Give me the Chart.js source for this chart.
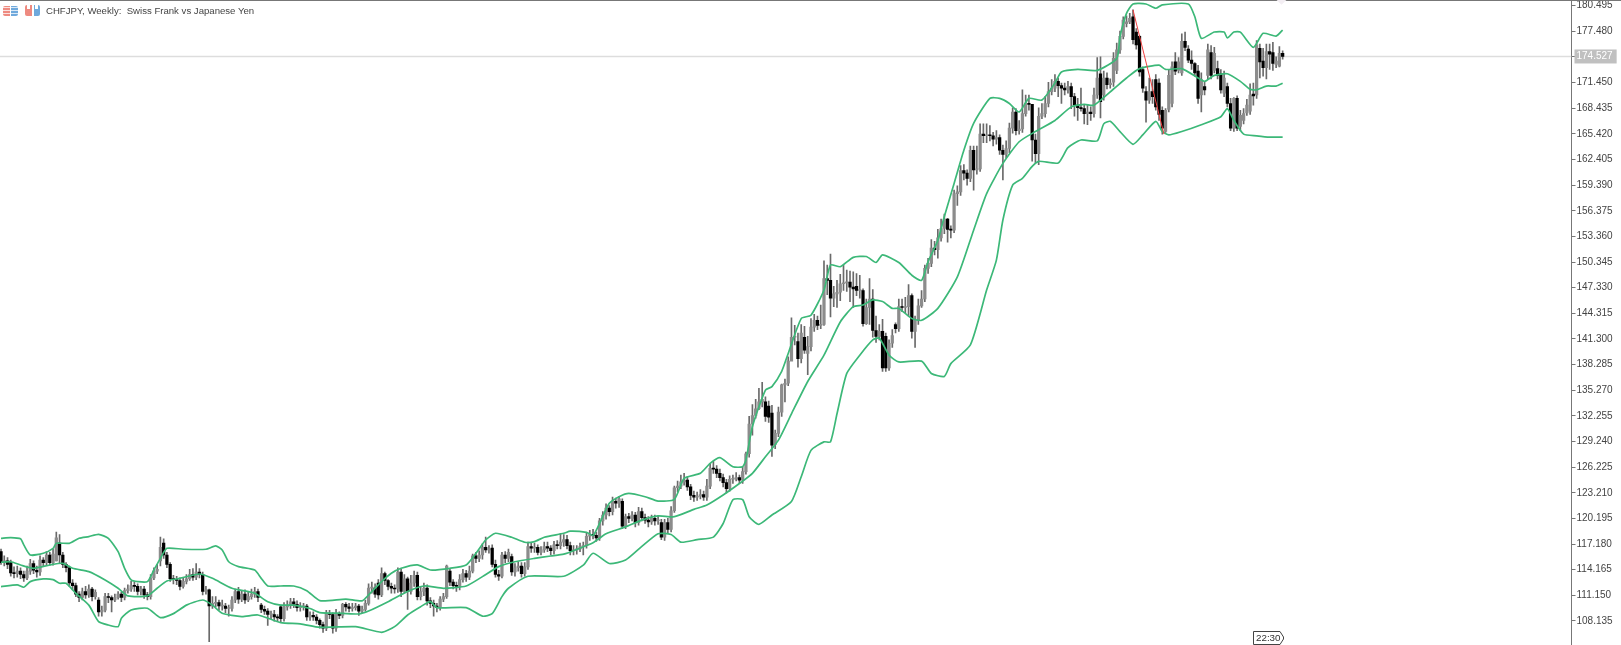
<!DOCTYPE html>
<html>
<head>
<meta charset="utf-8">
<title>CHFJPY Weekly</title>
<script src="https://cdn.jsdelivr.net/npm/chart.js@4"></script>
<style>
  html, body { margin: 0; padding: 0; background: #fff; overflow: hidden; }
  #wrap { position: relative; width: 1621px; height: 645px; overflow: hidden; }
  #wrap canvas { position: absolute; left: 0; top: 0; filter: blur(0.45px); }
  #topline { position: absolute; left: 0; top: 0; width: 1621px; height: 1px; background: #777; }
  #header { position: absolute; left: 46px; top: 5px; font: 9.6px "Liberation Sans", sans-serif; color: #444; white-space: pre; }
  .icon { position: absolute; top: 6px; width: 15px; height: 10px; border-radius: 2px; }
  #icon1 { left: 3px; background: repeating-linear-gradient(0deg, transparent 0 2px, rgba(255,255,255,.75) 2px 3px), linear-gradient(90deg, #ee8a80 0 45%, #fff 45% 52%, #6fa9dc 52% 100%); }
  #icon2 { left: 25px; top: 5px; height: 11px; background: linear-gradient(#fff 0 4px, transparent 4px) 2px 0 / 3px 100% no-repeat, linear-gradient(#fff 0 4px, transparent 4px) 10px 0 / 3px 100% no-repeat, linear-gradient(90deg, #ee8a80 0 45%, #fff 45% 58%, #6fa9dc 58% 100%); }
  #diamond { position: absolute; left: 1277px; top: -6px; width: 9px; height: 9px; background: #f3eef3; transform: rotate(45deg); }
  #clock { position: absolute; left: 1253px; top: 631px; }
  #clock span { position: absolute; left: 3px; top: 1px; font: 9.8px "Liberation Sans", sans-serif; color: #333; }
</style>
</head>
<body>
<div id="wrap">
  <canvas id="chart" width="1621" height="645"></canvas>
  <div id="topline"></div>
  <div class="icon" id="icon1"></div>
  <div class="icon" id="icon2"></div>
  <div id="header">CHFJPY, Weekly:  Swiss Frank vs Japanese Yen</div>
  <div id="diamond"></div>
  <div id="clock">
    <svg width="32" height="14"><path d="M0.5 0.5H27L30.5 6V8L27 13.5H0.5Z" fill="#fff" stroke="#444"/></svg>
    <span>22:30</span>
  </div>
</div>
<script>
// weekly candles
const opens = [
  116.3,115.0,115.2,115.0,113.8,113.7,114.0,113.6,113.2,114.0,
  114.9,114.1,113.9,115.3,115.0,115.9,115.0,115.2,117.3,115.9,
  114.8,114.4,112.6,112.3,111.3,110.9,111.6,111.2,111.9,111.0,
  110.6,109.2,109.4,111.0,110.9,110.6,110.9,111.3,110.9,111.7,
  111.9,112.3,112.2,111.6,111.9,111.2,111.0,113.2,114.0,115.2,
  117.3,115.9,114.8,113.1,113.0,112.9,112.2,112.8,113.1,113.6,
  113.3,113.9,113.6,111.6,111.8,109.9,110.2,110.3,109.9,109.9,
  109.6,109.6,110.6,111.6,110.7,111.3,110.6,111.0,111.3,111.6,
  110.0,109.5,109.3,108.9,108.9,108.6,109.8,108.4,109.8,110.0,
  110.4,110.1,109.7,109.8,109.9,108.6,108.8,108.6,108.2,107.7,
  107.3,109.0,108.9,107.3,109.0,108.8,110.1,109.8,109.6,109.7,
  109.9,109.3,109.5,110.2,112.0,112.0,112.6,111.2,113.7,112.9,
  112.2,112.0,111.9,113.9,111.6,113.1,111.6,112.6,113.5,111.0,
  111.6,112.0,110.5,110.2,109.9,109.7,110.7,111.0,114.0,112.7,
  112.3,112.2,113.0,113.7,113.3,114.0,115.8,115.5,115.9,116.8,
  116.5,116.7,114.8,113.6,113.4,115.9,115.5,115.7,113.9,114.4,
  114.6,113.7,114.5,116.9,116.7,116.8,116.2,116.5,116.9,116.7,
  116.4,117.1,117.0,117.4,117.7,117.0,116.4,116.5,116.6,116.9,
  117.0,118.1,118.3,118.2,117.9,119.9,120.6,121.4,121.0,122.2,
  122.0,122.2,119.3,120.4,120.2,120.6,119.7,121.0,120.3,120.0,
  119.8,120.2,119.9,119.7,118.0,119.7,118.9,121.1,123.8,124.0,
  124.5,124.7,123.9,122.9,122.7,122.8,123.0,122.7,124.0,126.1,
  126.0,125.5,125.0,124.4,123.7,124.8,124.8,125.0,124.7,125.7,
  127.8,131.3,132.3,133.1,133.9,133.9,133.4,132.6,128.9,130.2,
  132.7,135.9,136.1,138.7,141.5,141.0,139.0,141.5,139.6,140.4,
  142.7,143.5,142.9,143.0,148.4,148.2,146.1,146.6,146.8,147.8,
  147.9,148.0,147.4,147.5,147.0,147.0,143.1,145.0,146.0,142.3,
  141.6,142.2,141.6,137.9,140.8,143.0,142.5,145.1,145.0,145.1,
  146.4,142.2,143.5,145.2,146.0,149.6,150.2,152.0,151.8,153.2,
  154.3,155.4,154.2,154.1,158.4,158.6,161.1,160.8,160.2,163.5,
  161.2,161.3,165.4,165.2,165.3,165.2,164.8,165.0,163.5,163.0,
  163.7,166.1,168.0,165.8,166.0,167.8,169.0,168.9,164.7,163.1,
  167.5,167.8,169.0,170.4,170.8,171.6,171.1,170.8,170.6,171.0,
  169.8,168.8,168.5,168.4,167.8,168.0,167.8,170.0,172.5,170.0,
  172.0,171.2,171.5,172.9,175.3,176.9,178.4,178.6,179.2,177.4,
  176.9,173.0,170.4,169.4,170.4,171.8,171.4,168.2,165.7,168.3,
  169.0,173.9,172.9,172.6,176.3,175.4,174.1,173.7,172.8,170.0,
  171.0,172.3,175.0,172.9,173.1,172.5,170.2,171.0,169.0,166.1,
  169.6,166.3,167.0,167.9,168.1,170.1,170.0,175.5,174.0,173.2,
  175.1,175.0,173.6,173.4,174.9
];
const highs = [
  116.6,115.8,115.6,115.3,114.5,114.6,114.4,114.0,114.6,115.4,
  115.2,114.6,115.8,115.6,116.3,116.2,116.6,118.6,118.3,116.2,
  115.0,114.6,113.0,112.6,111.6,112.0,112.2,112.4,112.1,111.8,
  110.9,109.9,111.4,111.4,111.1,111.3,111.6,111.5,112.0,112.4,
  112.8,112.7,112.5,112.2,112.2,111.5,113.6,114.4,114.8,118.0,
  117.8,116.2,115.0,113.5,113.4,113.2,113.2,113.6,114.2,114.3,
  114.9,114.3,113.9,112.2,111.9,111.0,111.0,110.6,110.6,110.2,
  110.0,111.0,111.9,112.1,111.7,111.8,111.5,111.9,112.1,111.9,
  110.2,109.9,109.6,109.3,109.4,108.9,110.0,110.3,110.5,110.8,
  110.8,110.5,110.3,110.2,110.1,109.2,109.2,108.9,108.4,108.0,
  109.4,109.4,109.1,109.5,109.2,110.2,110.3,110.2,110.2,110.2,
  110.1,109.9,110.6,112.5,112.7,112.5,113.0,114.4,113.9,113.0,
  112.6,112.4,114.4,114.2,113.6,113.3,113.5,114.0,113.9,112.2,
  112.6,112.4,110.9,110.6,110.2,111.0,111.4,114.7,114.3,113.0,
  112.7,113.6,114.2,114.1,114.6,116.0,116.2,116.4,117.2,118.0,
  117.0,117.1,115.3,114.1,116.2,116.3,116.6,116.0,114.9,115.1,
  115.0,115.0,117.4,117.3,117.3,117.1,116.9,117.4,117.4,117.0,
  117.5,117.6,118.4,118.3,118.2,117.4,117.0,117.0,117.3,117.4,
  118.5,118.8,118.9,118.6,120.2,121.0,121.9,121.7,122.7,122.6,
  122.8,122.5,120.7,120.8,121.0,120.9,121.5,121.4,120.7,120.4,
  120.6,120.6,120.5,120.1,120.1,120.2,121.6,124.0,124.6,125.3,
  125.5,125.1,124.2,123.4,123.3,123.6,123.4,124.8,126.6,126.9,
  126.4,126.0,125.4,124.8,125.2,125.3,125.6,125.3,126.2,128.0,
  132.2,133.6,134.2,135.5,136.2,134.5,134.0,133.5,130.6,133.3,
  136.0,136.6,139.2,143.8,142.9,142.0,143.0,142.8,141.6,143.7,
  144.2,144.0,145.3,150.5,150.0,151.3,147.5,148.2,148.9,150.0,
  149.4,149.3,149.2,149.0,148.8,147.2,146.0,148.4,147.1,144.0,
  143.0,143.6,142.0,141.2,142.4,143.2,146.0,146.0,146.2,147.7,
  146.6,144.0,146.0,147.0,150.0,150.8,153.0,152.8,154.2,155.4,
  156.0,155.5,154.6,158.8,159.3,161.7,161.8,161.2,164.0,164.0,
  164.0,166.6,166.6,166.6,166.4,165.6,165.8,165.3,164.1,164.6,
  166.7,168.5,168.4,167.0,170.6,170.0,170.0,168.7,165.4,168.5,
  169.0,169.8,171.5,171.8,172.4,172.0,171.4,171.4,171.6,171.4,
  170.2,169.6,170.8,168.9,168.8,168.6,170.8,174.4,174.5,172.8,
  172.6,171.9,175.0,176.1,177.5,179.2,179.3,179.6,180.0,177.8,
  177.0,173.3,171.0,172.0,171.8,172.4,171.9,168.6,168.4,173.0,
  173.9,175.0,174.4,177.2,177.4,175.8,175.2,173.8,173.5,172.6,
  171.5,176.0,175.8,175.6,174.0,173.0,172.8,171.4,169.6,169.7,
  169.9,168.2,168.4,169.5,171.3,171.4,176.4,176.0,175.5,176.0,
  176.0,176.2,174.5,175.7,175.2
];
const lows = [
  114.8,114.6,114.3,113.4,113.2,113.3,113.1,112.8,113.0,113.6,
  113.7,113.3,113.5,114.6,114.7,114.7,114.7,115.2,115.0,114.4,
  113.9,112.2,111.8,111.0,110.4,110.6,110.8,110.9,110.5,110.7,
  108.7,108.7,109.2,110.3,109.2,110.4,110.7,110.4,110.6,111.4,
  111.6,111.6,111.2,111.2,110.8,110.6,110.7,113.0,113.7,114.6,
  115.5,114.4,112.8,112.5,112.4,111.8,112.0,112.5,112.9,112.9,
  113.0,113.2,111.2,111.3,105.7,109.6,109.8,109.4,109.4,109.1,
  108.7,109.3,110.3,110.2,110.4,110.2,110.4,110.7,110.9,110.4,
  109.1,108.9,107.6,108.4,108.1,108.1,108.0,108.1,109.4,109.6,
  109.7,109.3,109.3,109.4,108.2,108.2,108.2,107.8,107.3,106.8,
  107.0,108.4,106.7,106.9,108.4,108.5,109.3,109.2,109.3,109.4,
  108.8,109.1,109.3,110.0,111.4,110.9,110.7,111.0,112.4,111.8,
  111.4,111.4,111.5,111.0,111.4,109.5,111.3,112.2,110.6,110.6,
  111.1,110.0,109.7,108.7,109.2,109.4,110.4,110.8,112.3,111.9,
  111.6,111.8,112.7,112.8,113.0,113.8,115.0,115.1,115.4,116.2,
  116.1,114.5,113.3,112.9,113.2,115.0,115.1,113.5,113.4,114.0,
  113.3,113.4,114.2,116.2,116.2,115.9,115.9,116.2,116.3,115.9,
  116.0,116.6,116.6,116.9,116.6,115.9,115.9,116.0,116.3,115.9,
  116.7,117.6,117.8,117.5,117.6,119.4,120.1,120.5,120.6,121.4,
  121.5,119.0,119.0,119.7,119.9,119.2,119.4,119.9,119.6,119.2,
  119.5,119.4,119.5,117.7,117.6,118.5,118.6,120.9,123.3,123.7,
  124.1,123.5,122.4,122.2,122.3,122.5,122.3,122.3,123.7,125.5,
  125.0,124.6,123.9,123.2,123.4,124.3,124.6,124.3,124.3,125.4,
  127.4,130.0,132.0,133.0,133.3,131.6,131.5,127.5,128.4,129.8,
  132.2,133.9,135.8,139.0,140.6,138.0,138.5,139.6,137.1,139.9,
  142.2,142.4,142.5,142.9,146.5,143.9,145.1,145.0,145.8,147.0,
  146.9,145.7,145.0,146.4,146.1,142.8,143.0,143.0,141.5,140.9,
  141.2,137.5,137.5,137.6,140.3,142.0,142.2,144.5,144.4,144.0,
  141.4,140.3,143.0,145.0,145.7,149.0,149.8,151.2,150.8,152.8,
  153.7,152.7,153.2,153.8,157.0,158.2,160.0,159.4,159.8,158.8,
  160.7,161.0,164.4,164.4,164.6,164.0,164.2,163.0,160.0,162.6,
  163.2,165.5,165.3,165.4,165.6,167.5,168.2,162.2,162.0,161.8,
  167.2,167.4,168.6,170.0,170.4,169.8,169.0,170.0,170.2,168.4,
  167.5,167.0,168.1,166.6,166.5,167.0,167.4,169.6,167.3,169.4,
  170.7,170.8,171.0,172.5,174.9,176.6,178.0,178.4,176.0,175.4,
  172.2,170.3,166.8,169.0,169.0,168.2,167.0,165.4,165.6,168.0,
  168.6,172.4,172.6,172.3,175.2,173.8,173.0,172.2,169.0,168.0,
  170.0,171.9,171.9,172.6,171.9,170.2,169.8,168.6,165.8,165.7,
  165.8,165.8,166.6,167.6,167.7,168.8,169.6,172.0,172.2,171.9,
  173.0,172.9,173.2,173.3,174.2
];
const closes = [
  115.0,115.2,114.8,113.8,113.7,114.0,113.6,113.2,114.0,114.9,
  114.1,113.9,115.3,115.0,115.9,115.0,116.0,117.9,115.9,114.8,
  114.4,112.6,112.3,111.3,110.9,111.6,111.2,111.9,111.0,111.5,
  109.2,109.4,111.0,110.9,110.6,110.9,111.3,110.9,111.7,111.9,
  112.3,112.2,111.6,111.9,111.2,111.0,113.2,114.0,114.2,116.8,
  115.9,114.8,113.1,113.0,112.9,112.2,112.8,113.1,113.6,113.3,
  113.9,113.6,111.6,111.8,109.9,110.2,110.3,109.9,109.9,109.6,
  109.6,110.6,111.6,110.7,111.3,110.6,111.0,111.3,111.6,110.9,
  109.5,109.3,108.9,108.9,108.6,108.5,108.4,109.8,110.0,110.4,
  110.1,109.7,109.8,109.9,108.6,108.8,108.6,108.2,107.7,107.3,
  109.0,108.9,107.3,109.0,108.8,110.1,109.8,109.6,109.7,109.9,
  109.3,109.5,110.2,112.0,112.0,111.3,111.2,113.7,112.9,112.2,
  112.0,111.9,113.9,111.6,113.1,111.6,112.6,113.5,111.0,111.6,
  112.0,110.5,110.2,109.9,109.7,110.7,111.0,114.6,112.7,112.3,
  112.2,113.0,113.7,113.3,114.0,115.8,115.5,115.9,116.8,116.5,
  116.6,114.8,113.6,113.4,115.9,115.5,116.2,113.9,114.4,114.6,
  113.7,114.5,116.9,116.7,116.8,116.2,116.5,116.9,116.7,116.4,
  117.1,117.0,117.4,117.7,117.0,116.4,116.5,116.6,116.9,117.0,
  118.1,118.3,118.2,117.9,119.9,120.6,121.4,121.0,122.2,122.0,
  122.5,119.3,120.4,120.2,120.6,119.7,121.0,120.3,120.0,119.8,
  120.2,119.9,120.0,118.0,119.7,118.9,121.1,123.8,124.0,124.5,
  124.7,123.9,122.9,122.7,122.8,123.0,122.7,124.0,126.1,126.0,
  125.5,125.0,124.4,123.7,124.8,124.8,125.0,124.7,125.7,127.8,
  131.3,132.3,133.1,133.9,134.2,132.2,132.1,128.8,130.2,132.7,
  135.9,136.1,138.7,141.5,141.5,139.0,142.0,140.0,140.4,142.7,
  143.5,142.9,143.0,148.4,148.2,146.1,146.6,146.8,147.8,147.9,
  148.0,147.4,147.2,147.0,147.0,143.1,145.0,146.0,142.3,141.6,
  142.2,137.9,137.9,140.8,141.7,142.5,145.1,145.0,145.1,146.4,
  142.2,143.5,145.2,146.0,149.6,150.2,152.0,151.8,153.2,154.3,
  155.4,154.2,154.1,158.4,158.6,161.1,160.8,160.2,163.5,161.2,
  161.3,165.4,165.2,165.3,165.2,164.8,165.0,163.5,163.0,163.7,
  166.1,168.0,165.8,166.0,167.8,169.0,168.9,164.7,163.1,167.5,
  167.8,169.0,170.4,170.8,171.6,171.1,170.8,170.6,171.0,169.8,
  168.8,168.5,168.4,167.8,168.0,167.8,170.0,172.0,169.2,172.0,
  171.2,171.4,174.3,175.3,176.9,178.8,178.6,179.0,176.5,175.9,
  172.7,170.8,169.4,170.4,169.8,168.6,167.7,166.1,168.2,172.3,
  173.3,172.8,173.9,176.3,175.6,174.1,173.7,172.6,169.6,171.8,
  170.6,175.3,172.3,174.9,172.3,170.6,172.0,169.0,166.1,169.6,
  166.1,167.6,167.8,168.8,170.0,169.9,175.9,173.9,173.2,175.1,
  174.8,173.7,174.0,174.9,174.53
];

// bollinger bands, traced at the bends (bar number + price)
const upperBars = [0,3,6,7,9,13,16,17,21,24,27,30,33,36,38,40,42,45,47,49,51,56,63,66,68,70,73,78,80,82,86,90,94,98,106,111,113,117,120,123,128,132,138,143,146,149,152,157,161,164,167,173,175,180,182,184,187,190,193,198,202,207,210,215,218,221,225,228,229,231,235,237,240,242,246,249,253,255,258,262,266,269,271,276,280,283,285,288,290,293,296,299,304,307,310,313,316,320,324,326,331,337,343,344,346,348,352,355,357,365,367,369,373,376,377,379,381,385,388,392,394];
const upperBand = [117.86,117.94,117.8,117.08,115.9,116.1,116.68,117.27,117.27,117.86,118.06,118.33,117.86,116.29,114.33,112.96,112.76,112.76,114.13,115.5,116.68,116.57,116.57,116.96,116.49,115.1,114.53,114.13,113.15,112.25,112.25,112.25,111.7,110.53,110.7,110.5,111.2,112.76,113.74,114.33,114.73,114.13,114.33,114.73,116.1,117.66,118.45,117.98,117.39,117.47,117.98,118.45,118.7,118.55,118.2,119.6,121.97,122.75,123.14,122.75,122.24,122.44,124.9,125.5,126.67,127.34,126.28,126.28,127.06,131.0,135.3,135.7,137.5,139.6,143.7,144.1,147.06,150,149.8,150.9,151,150.3,151.2,150.3,148.8,148.2,150.4,152.9,155.7,159.6,163.5,166.66,169.6,169.6,169,168,169.6,169.4,171.4,172.7,173,172.9,174.3,176.86,179.6,180.7,180.7,180.2,180.6,180.7,179.2,176.66,177.4,177.4,176.7,177.4,177.4,175.6,177.25,176.93,177.64];
const middleBars = [0,3,6,10,15,19,22,27,32,36,39,45,48,51,55,61,65,71,78,82,86,90,95,98,105,110,113,119,125,130,136,143,148,153,158,164,169,173,177,182,186,192,197,202,207,213,217,222,227,231,235,239,243,248,253,258,262,265,268,271,274,276,280,283,288,294,299,303,308,313,318,324,329,333,336,342,346,350,356,358,363,368,370,373,377,381,384,386,389,392,394];
const middleBand = [115.04,115.1,114.72,114.33,114.72,114.92,114.33,113.94,112.96,111.98,111.08,111.08,111.98,112.84,113.15,113.66,113.15,111.98,111.39,110.4,110,110,109.6,109.12,109.04,108.96,109.3,110.4,111.6,112.25,111.98,112.25,113.35,114.53,115.1,115.5,115.78,116,116.55,117.34,118.4,119.2,120,120.5,120.4,121.26,121.77,122.95,124.3,125.5,127.45,129.4,132.5,136.3,139.4,143.3,145.1,145.3,145.9,145.7,144.9,144.9,143.7,143.5,144.9,148.6,154.1,158.4,161.95,164.5,165.7,167,168.6,168.9,168.8,170.7,172,173.1,173.5,173,173.1,172,171.6,172.3,172.5,171.6,170.66,170.6,171.05,171.05,171.37];
const lowerBars = [0,5,7,9,13,16,18,20,23,27,30,33,36,37,40,45,49,53,57,62,65,68,74,79,86,92,98,109,117,121,125,129,132,134,143,148,151,154,156,162,173,179,182,187,192,197,202,206,209,214,219,222,225,228,230,233,237,243,246,249,253,255,257,260,264,268,270,273,276,283,286,290,292,298,303,306,308,311,314,317,319,325,328,332,337,339,341,344,348,351,355,357,359,363,369,375,377,379,382,386,390,394];
const lowerBand = [112.17,112.37,112.1,112.76,113.08,113,112.57,112.57,111.39,110,108.06,107.66,107.47,108.45,109.43,109.63,108.53,109,110,110.6,110,109.04,108.65,108.84,107.94,107.8,107.39,107.47,106.8,107.47,108.84,109.82,110.4,109.7,109.7,108.7,109,111,111.98,113.4,113.4,114.7,116.1,114.9,115.3,116.9,118.4,118.3,117.4,117.7,118,119.6,122.4,122.4,120.4,119.5,120.6,122.2,125.1,128.2,129.2,129.2,132.5,137.25,139.4,141.2,141.4,139.4,138.6,138.7,137.25,136.9,138.4,140.6,147.06,150.58,155.3,159.4,160.2,161.6,162.2,162,163.8,164.7,164.6,166.6,166.9,165.7,164.2,165.3,166.9,165.7,165.3,165.7,166.5,167.45,168.4,167,165.4,165.2,165.05,165.05];

// the red trend line and the current price
const trendBars = [348, 357.5];
const trendPrices = [180.0, 165.4];
const lastPrice = 174.527;
const priceTicks = [108.135,111.150,114.165,117.180,120.195,123.210,126.225,129.240,132.255,135.270,138.285,141.300,144.315,147.330,150.345,153.360,156.375,159.390,162.405,165.420,168.435,171.450,174.527,177.480,180.495];

const green = '#3cb878';
const pairs = (xs, ys) => xs.map((x, i) => ({ x: x, y: ys[i] }));

new Chart(document.getElementById('chart'), {
  data: {
    datasets: [
      { type: 'line', data: pairs(trendBars, trendPrices), borderColor: '#f04040', borderWidth: 1, pointRadius: 0, order: 1 },
      { type: 'line', data: pairs(upperBars, upperBand), borderColor: green, borderWidth: 1.7, pointRadius: 0, tension: 0.2, order: 2 },
      { type: 'line', data: pairs(middleBars, middleBand), borderColor: green, borderWidth: 1.7, pointRadius: 0, tension: 0.2, order: 2 },
      { type: 'line', data: pairs(lowerBars, lowerBand), borderColor: green, borderWidth: 1.7, pointRadius: 0, tension: 0.2, order: 2 },
      {
        type: 'bar',
        data: opens.map((o, i) => ({ x: i, y: [o, closes[i]] })),
        backgroundColor: ctx => closes[ctx.dataIndex] >= opens[ctx.dataIndex] ? '#8c8c8c' : '#000000',
        barThickness: 2.6,
        minBarLength: 1,
        grouped: false,
        order: 3
      },
      {
        type: 'bar',
        data: highs.map((h, i) => ({ x: i, y: [lows[i], h] })),
        backgroundColor: '#6a6a6a',
        barThickness: 1,
        grouped: false,
        order: 4
      },
      { type: 'line', data: [{ x: -0.31, y: lastPrice }, { x: 482.8, y: lastPrice }], borderColor: '#dddddd', borderWidth: 1.4, pointRadius: 0, order: 5 }
    ]
  },
  options: {
    responsive: false,
    animation: false,
    layout: { padding: 0, autoPadding: false },
    plugins: { legend: { display: false }, tooltip: { enabled: false } },
    scales: {
      x: { type: 'linear', display: false, min: -0.31, max: 482.8, offset: false, grid: { display: false } },
      y: {
        position: 'right',
        min: 105.31,
        max: 181.17,
        afterFit: scale => {
          scale.width = 49.5;
          // labels near the edges must not shrink the plot
          scale.paddingTop = 0;
          scale.paddingBottom = 0;
          scale._margins = { left: 0, right: 0, top: 0, bottom: 0 };
        },
        afterBuildTicks: scale => { scale.ticks = priceTicks.map(v => ({ value: v })); },
        border: { display: true, color: '#777777', width: 1 },
        grid: { drawOnChartArea: false, drawTicks: true, tickLength: 4, color: '#777777' },
        ticks: {
          autoSkip: false,
          padding: 1,
          maxRotation: 0,
          font: { family: 'Liberation Sans', size: 10 },
          color: ctx => ctx.tick.value === lastPrice ? '#ffffff' : '#444444',
          showLabelBackdrop: ctx => ctx.tick.value === lastPrice,
          backdropColor: '#c0c0c0',
          backdropPadding: { left: 2, right: 4, top: 1, bottom: 1 },
          callback: v => v.toFixed(3)
        }
      }
    }
  }
});
</script>
</body>
</html>
